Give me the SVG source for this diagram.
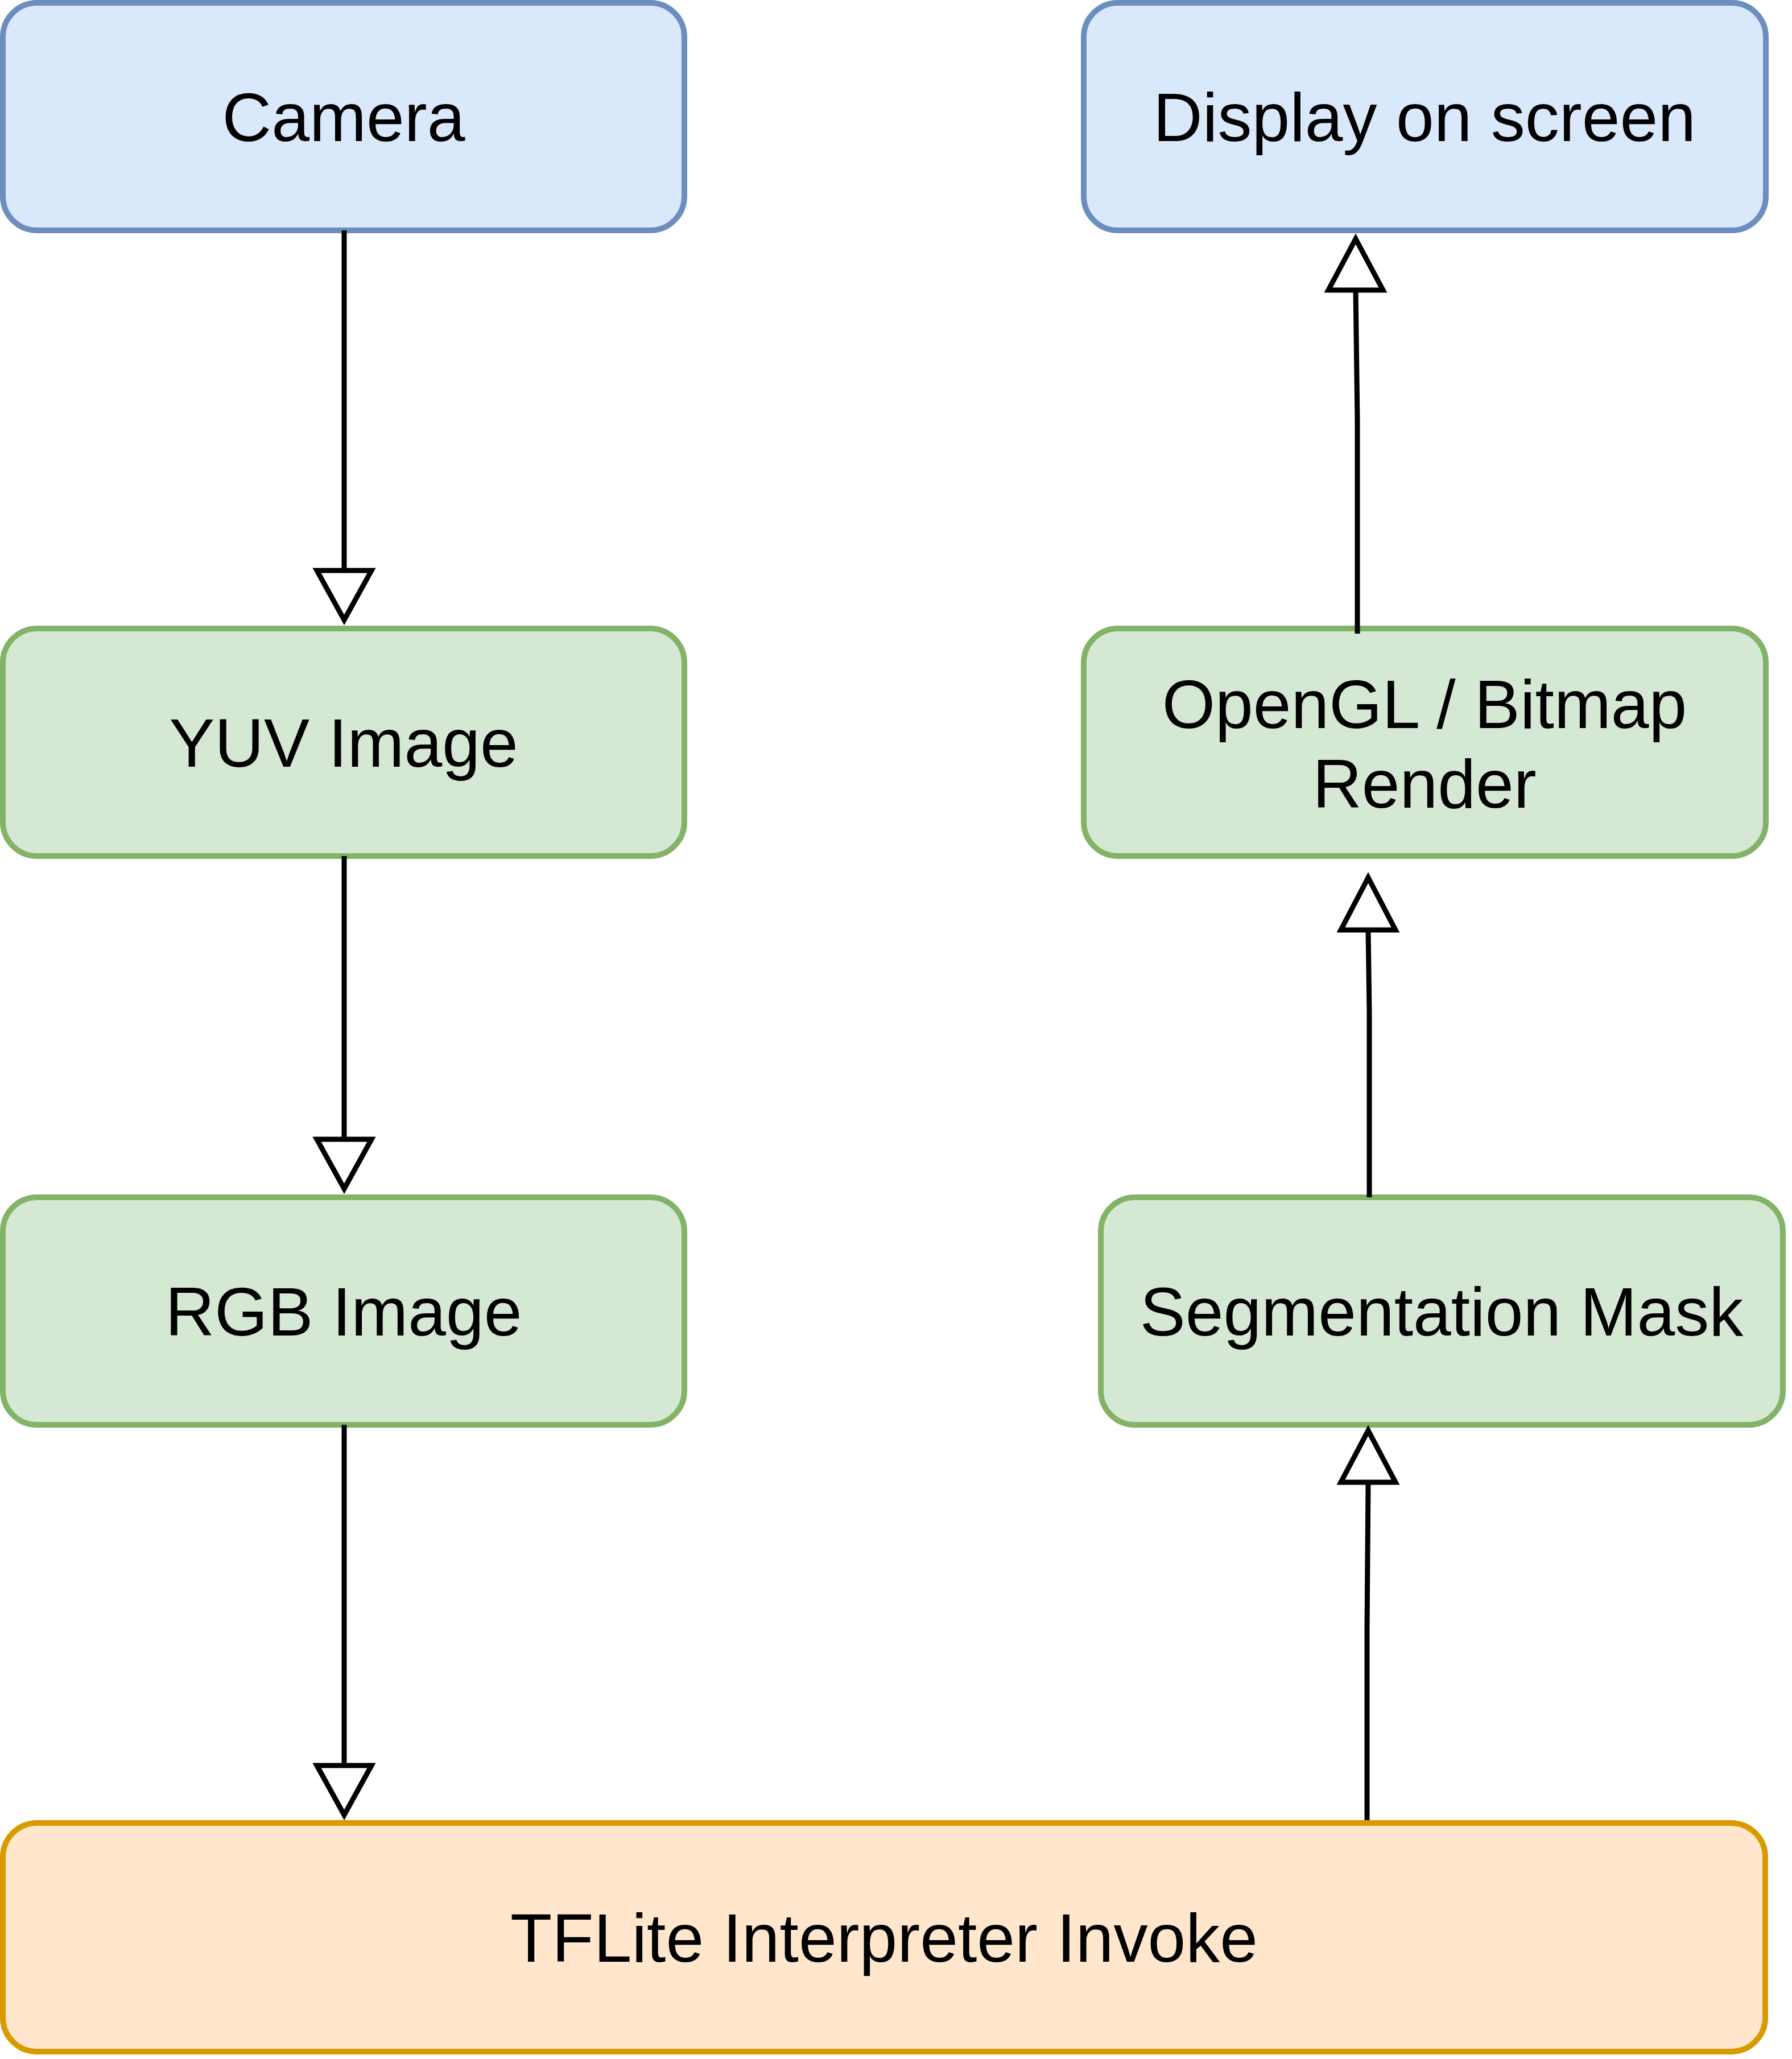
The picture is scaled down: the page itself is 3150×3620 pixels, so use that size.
<svg xmlns="http://www.w3.org/2000/svg" width="3150" height="3620" viewBox="0 0 3150 3620">
<style>
.blue{fill:#dae8fc;stroke:#6c8ebf;stroke-width:10}
.green{fill:#d5e8d4;stroke:#82b366;stroke-width:10}
.orange{fill:#ffe6cc;stroke:#d79b00;stroke-width:10}
.lbl{font-family:"Liberation Sans",Arial,Helvetica,sans-serif;font-size:120px;fill:#000;text-anchor:middle}
.edge{fill:none;stroke:#000;stroke-width:9}
.head{fill:#fff;stroke:#000;stroke-width:9;stroke-linejoin:miter;stroke-miterlimit:10}
</style>
<rect width="3150" height="3620" fill="#fff"/>
<g id="camera"><rect class="blue" x="5" y="5" width="1198" height="400" rx="60" ry="60"/><text class="lbl" x="604" y="248">Camera</text></g>
<g id="display"><rect class="blue" x="1905" y="5" width="1199" height="400" rx="60" ry="60"/><text class="lbl" x="2504" y="248">Display on screen</text></g>
<g id="yuv"><rect class="green" x="5" y="1105" width="1198" height="400" rx="60" ry="60"/><text class="lbl" x="604" y="1348">YUV Image</text></g>
<g id="opengl"><rect class="green" x="1905" y="1105" width="1199" height="400" rx="60" ry="60"/><text class="lbl" x="2504" y="1280">OpenGL / Bitmap</text><text class="lbl" x="2504" y="1420">Render</text></g>
<g id="rgb"><rect class="green" x="5" y="2105" width="1198" height="400" rx="60" ry="60"/><text class="lbl" x="604" y="2348">RGB Image</text></g>
<g id="seg"><rect class="green" x="1935" y="2105" width="1199" height="400" rx="60" ry="60"/><text class="lbl" x="2534" y="2348">Segmentation Mask</text></g>
<g id="tflite"><rect class="orange" x="5" y="3205" width="3098" height="402" rx="60" ry="60"/><text class="lbl" x="1554" y="3449">TFLite Interpreter Invoke</text></g>
<g id="connectors">
<path class="edge" d="M605 405 L605 1003"/>
<polygon class="head" points="557,1003 653,1003 605,1090"/>
<path class="edge" d="M605 1505 L605 2003"/>
<polygon class="head" points="557,2003 653,2003 605,2090"/>
<path class="edge" d="M605 2505 L605 3104"/>
<polygon class="head" points="557,3104 653,3104 605,3191"/>
<path class="edge" d="M2403 3200 L2403 2864 L2405 2606"/>
<polygon class="head" points="2357,2606 2453,2606 2405,2515"/>
<path class="edge" d="M2407 2105 L2407 1778 L2405 1635"/>
<polygon class="head" points="2357,1635 2453,1635 2405,1543"/>
<path class="edge" d="M2386 1114 L2386 739 L2383 510"/>
<polygon class="head" points="2335,510 2431,510 2383,420"/>
</g>
</svg>
